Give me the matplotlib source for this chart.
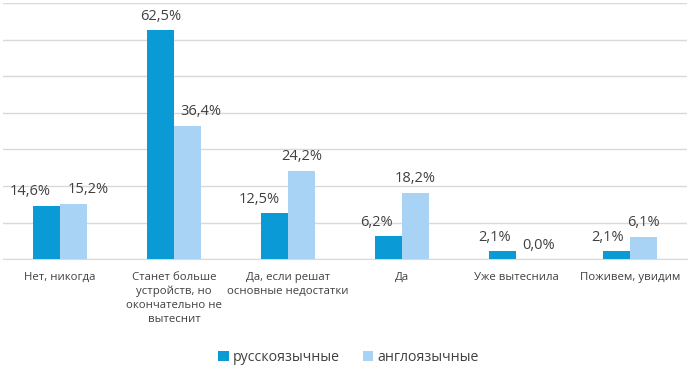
import matplotlib
matplotlib.use("Agg")
import matplotlib.pyplot as plt
import numpy as np

categories = ["Нет, никогда",
              "Станет больше\nустройств, но\nокончательно не\nвытеснит",
              "Да, если решат\nосновные недостатки",
              "Да",
              "Уже вытеснила",
              "Поживем, увидим"]
series_names = ["русскоязычные", "англоязычные"]
ru_values = [14.6, 62.5, 12.5, 6.2, 2.1, 2.1]
en_values = [15.2, 36.4, 24.2, 18.2, 0.0, 6.1]
colors = ["#0A9BD7", "#A9D3F5"]

# horizontal nudges (pixels) of the value labels, as in the reference layout
label_dx = [[-16, 0, -15, -12, -8, -9],
            [15, 13, 0, 0, 9, 0]]

plt.rcParams['font.family'] = ['Open Sans', 'DejaVu Sans']
text_color = "#404040"

fig = plt.figure(figsize=(6.9, 3.65), dpi=100)
ax = fig.add_axes([0.004, 0.29, 0.992, 0.702])

x = np.arange(len(categories))
w = 0.237
px = 72 / fig.dpi
for i, (vals, col, name) in enumerate(zip([ru_values, en_values], colors, series_names)):
    pos = x + (i - 0.5) * w
    ax.bar(pos, vals, width=w, color=col, label=name, zorder=3)
    for j, (p, v) in enumerate(zip(pos, vals)):
        ax.annotate(f"{v:.1f}%".replace('.', ','), xy=(p, v),
                    xytext=(label_dx[i][j] * px, 14 * px), textcoords='offset points',
                    ha='center', va='center', fontsize=10.5, color=text_color, zorder=4)

ax.set_ylim(0, 70)
ax.set_xlim(-0.5, len(categories) - 0.5)
ax.set_yticks(np.arange(0, 71, 10))
ax.yaxis.grid(True, color="#D9D9D9", linewidth=1)
ax.set_axisbelow(True)
ax.tick_params(axis='y', left=False, labelleft=False)
ax.tick_params(axis='x', length=0, pad=9)
ax.set_xticks(x)
ax.set_xticklabels(categories, fontsize=8.2, color=text_color, linespacing=1.38, va='top')
for s in ['top', 'right', 'left']:
    ax.spines[s].set_visible(False)
ax.spines['bottom'].set_color("#D9D9D9")

fig.legend(loc='lower center', bbox_to_anchor=(0.505, -0.035), ncol=2, frameon=False,
           fontsize=10.2, handlelength=0.75, handleheight=0.75, handletextpad=0.3,
           columnspacing=1.6, labelcolor=text_color)

fig.savefig("out.png", dpi=100)
